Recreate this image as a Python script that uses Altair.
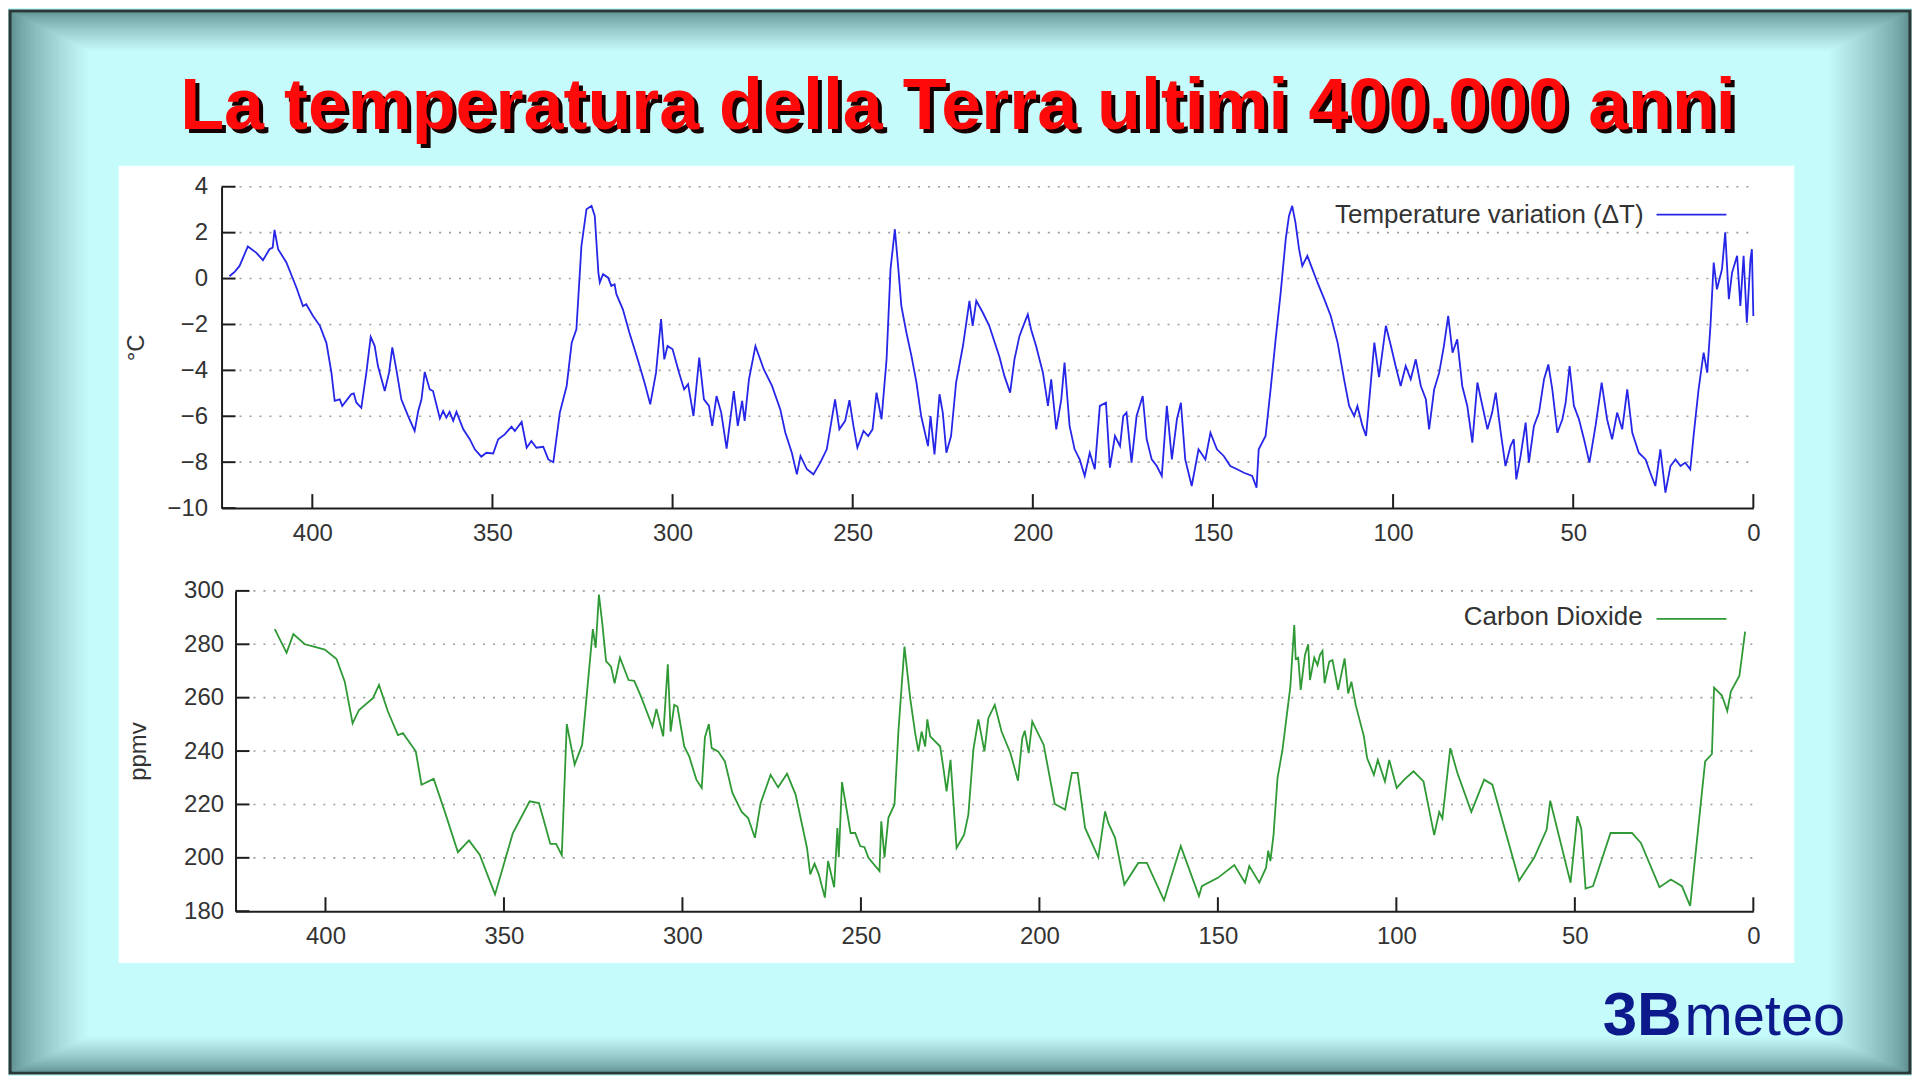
import altair as alt
import pandas as pd

# ---------------- data ----------------
temp_kyr = [423.0, 421.5, 420.2, 417.9, 415.6, 413.7, 411.9, 411.0, 410.5, 409.5, 407.2, 404.4, 402.6, 401.7,
            399.8, 397.9, 396.1, 394.7, 393.8, 392.4, 391.7, 390.6, 389.2, 388.5, 387.8, 386.4, 385.0, 383.8,
            382.7, 381.8, 379.9, 378.7, 377.8, 376.7, 375.3, 373.4, 371.6, 370.6, 369.7, 368.8, 367.4, 366.5,
            364.6, 363.7, 362.8, 361.9, 360.9, 360.0, 358.1, 356.3, 354.9, 353.1, 351.7, 349.8, 348.4, 346.6,
            344.7, 343.8, 341.9, 340.5, 339.2, 337.8, 335.9, 334.5, 333.1, 331.3, 329.4, 328.0, 326.7, 325.3,
            323.9, 322.5, 321.6, 320.6, 320.2, 319.3, 317.9, 317.0, 316.1, 315.6, 313.8, 312.0, 309.7, 307.8,
            306.2, 304.6, 303.2, 302.3, 301.4, 300.0, 298.2, 296.8, 295.7, 294.2, 292.6, 291.3, 289.9, 289.0,
            287.8, 286.5, 285.0, 283.0, 281.9, 280.7, 280.0, 278.8, 277.0, 274.7, 272.4, 270.1, 268.7, 266.9,
            265.5, 264.5, 262.7, 260.9, 259.0, 257.2, 254.9, 253.7, 252.1, 250.9, 249.8, 248.7, 247.0, 245.7,
            244.5, 243.4, 242.0, 240.6, 239.5, 238.3, 237.4, 236.5, 235.1, 233.7, 232.3, 231.0, 229.1, 228.4,
            227.3, 225.9, 225.0, 224.0, 222.7, 221.3, 219.4, 217.6, 216.7, 215.7, 213.9, 212.1, 209.3, 207.9,
            206.3, 205.1, 203.7, 202.3, 201.4, 200.5, 199.1, 197.2, 195.8, 194.9, 193.5, 192.1, 191.2, 189.8,
            188.4, 187.0, 185.6, 184.2, 182.8, 181.4, 179.7, 178.6, 177.2, 175.8, 174.9, 174.0, 172.6, 171.2,
            169.5, 168.4, 167.0, 165.6, 164.2, 162.8, 161.4, 160.0, 158.9, 157.7, 155.9, 154.0, 152.1, 150.7,
            148.9, 147.0, 145.2, 143.3, 141.4, 139.1, 137.9, 137.3, 135.4, 134.0, 132.6, 131.2, 129.8, 128.9,
            128.0, 127.1, 126.1, 125.2, 123.8, 122.4, 121.0, 119.1, 117.3, 115.4, 113.6, 112.2, 110.8, 109.9,
            108.5, 107.5, 106.1, 105.2, 103.9, 102.0, 100.6, 99.3, 97.9, 96.5, 95.1, 93.7, 92.3, 90.9, 90.0,
            88.6, 87.2, 85.9, 84.7, 83.5, 82.2, 80.8, 79.4, 78.0, 76.6, 75.2, 73.8, 72.5, 71.5, 70.1, 68.8,
            67.4, 66.5, 65.8, 64.6, 63.2, 62.3, 60.9, 59.5, 58.1, 56.9, 55.8, 54.4, 53.0, 52.1, 51.0, 49.8,
            48.4, 47.0, 45.5, 43.8, 42.1, 40.6, 39.2, 37.8, 36.4, 35.0, 33.6, 31.8, 29.9, 28.6, 27.2, 25.8,
            24.4, 23.0, 21.6, 20.2, 18.9, 17.5, 16.5, 15.2, 13.8, 12.8, 11.9, 11.0, 10.1, 8.7, 7.8, 6.8, 5.9,
            4.5, 3.6, 2.7, 1.8, 0.8, 0.4, 0.0]
temp_dc = [0.1, 0.3, 0.55, 1.4, 1.13, 0.8, 1.28, 1.35, 2.12, 1.28, 0.7, -0.4, -1.2, -1.12,
           -1.63, -2.06, -2.8, -4.1, -5.33, -5.26, -5.55, -5.33, -5.04, -5.0, -5.4, -5.63, -4.1, -2.54,
           -2.93, -3.8, -4.9, -4.1, -3.0, -3.95, -5.26, -5.99, -6.64, -5.77, -5.26, -4.07, -4.83, -4.9,
           -6.1, -5.77, -6.06, -5.81, -6.2, -5.81, -6.57, -7.0, -7.44, -7.76, -7.59, -7.62, -7.0, -6.79,
           -6.45, -6.64, -6.25, -7.37, -7.08, -7.37, -7.33, -7.88, -8.0, -5.84, -4.68, -2.79, -2.21, 1.42,
           3.02, 3.17, 2.73, 0.26, -0.17, 0.19, 0.04, -0.32, -0.25, -0.68, -1.34, -2.35, -3.52, -4.53,
           -5.48, -4.1, -1.77, -3.52, -2.94, -3.08, -4.1, -4.83, -4.6, -5.99, -3.44, -5.26, -5.55, -6.42,
           -5.12, -5.84, -7.41, -4.9, -6.42, -5.33, -6.2, -4.39, -2.94, -3.95, -4.68, -5.7, -6.72, -7.59,
           -8.53, -7.73, -8.31, -8.53, -8.02, -7.44, -5.26, -6.57, -6.2, -5.3, -6.42, -7.37, -6.64, -6.86,
           -6.57, -4.97, -6.13, -3.52, 0.41, 2.15, 0.55, -1.19, -2.35, -3.37, -4.53, -5.99, -7.3, -5.99,
           -7.66, -5.04, -5.84, -7.59, -6.86, -4.53, -2.94, -0.97, -2.06, -0.97, -1.48, -2.06, -3.4, -4.24,
           -4.97, -3.52, -2.5, -1.92, -1.56, -2.21, -2.94, -4.1, -5.55, -4.39, -6.57, -5.26, -3.66, -6.42,
           -7.44, -7.88, -8.6, -7.59, -8.31, -5.55, -5.41, -8.24, -6.86, -7.3, -5.99, -5.84, -8.02, -5.99,
           -5.12, -7.0, -7.88, -8.17, -8.6, -5.55, -7.88, -6.13, -5.41, -7.88, -9.04, -7.44, -7.88, -6.72,
           -7.44, -7.73, -8.17, -8.31, -8.46, -8.6, -9.11, -7.44, -6.86, -4.83, -2.65, -0.61, 1.72, 2.73,
           3.17, 2.44, 1.28, 0.55, 0.99, 0.41, -0.17, -0.9, -1.63, -2.79, -4.39, -5.55, -5.99, -5.55,
           -6.42, -6.86, -4.39, -2.79, -4.3, -2.06, -2.94, -3.81, -4.68, -3.81, -4.39, -3.52, -4.68, -5.26, -6.57,
           -4.83, -4.1, -2.94, -1.63, -3.23, -2.65, -4.68, -5.55, -7.15, -4.53, -5.55, -6.57, -5.84, -4.97, -6.72, -8.17,
           -7.3, -7.0, -8.75, -7.73, -6.28, -8.02, -6.42, -5.84, -4.39, -3.74, -4.83, -6.72, -6.13, -5.41, -3.81, -5.55,
           -6.13, -7.0, -8.02, -6.42, -4.53, -6.13, -7.0, -5.84, -6.57, -4.83, -6.72, -7.59, -7.88, -8.46, -9.04, -7.44,
           -9.33, -8.17, -7.88, -8.17, -8.02, -8.31, -6.72, -4.83, -3.23, -4.1, -2.06, 0.7, -0.47, 0.41, 2.01, -0.9, 0.26,
           0.99, -1.19, 0.99, -1.92, 0.84, 1.28, -1.63]

co2_kyr = [414.2, 410.9, 409.0, 405.8, 403.5, 400.2, 396.9, 394.6, 392.4, 390.6, 386.7, 385.0, 382.5, 379.7,
           378.3, 374.7, 373.1, 369.7, 366.6, 362.9, 359.8, 356.8, 352.5, 347.5, 342.8, 340.2, 337.0, 335.4,
           333.8, 332.4, 330.2, 328.1, 325.1, 324.3, 323.4, 322.5, 321.4, 320.0, 319.0, 317.5, 315.1, 313.5,
           311.6, 308.4, 307.3, 305.4, 304.1, 303.3, 302.3, 301.4, 299.5, 298.1, 296.1, 294.6, 293.7, 292.6,
           291.8, 290.0, 288.1, 286.0, 283.4, 281.6, 279.7, 278.1, 275.3, 273.2, 270.7, 268.3, 265.1, 264.2,
           263.0, 261.8, 260.1, 259.2, 257.5, 256.6, 256.2, 255.3, 252.9, 251.6, 250.2, 249.0, 247.9, 244.8,
           244.3, 243.4, 242.3, 240.6, 239.5, 237.8, 236.2, 234.8, 233.9, 233.0, 232.0, 231.4, 230.6, 227.8,
           226.9, 226.0, 224.9, 223.2, 221.1, 219.9, 218.5, 217.1, 215.4, 214.3, 212.5, 210.6, 208.1, 206.0,
           204.8, 204.1, 203.0, 202.0, 198.8, 195.7, 192.8, 190.9, 189.3, 187.2, 183.5, 181.6, 180.7, 178.8,
           176.2, 172.3, 169.9, 165.1, 160.4, 155.3, 154.5, 150.0, 145.4, 142.4, 141.2, 138.4, 136.5, 135.9,
           135.3, 134.4, 133.3, 131.9, 129.7, 128.6, 128.2, 127.5, 126.8, 125.6, 124.7, 124.2, 123.0, 122.1,
           121.4, 120.7, 120.1, 118.8, 117.9, 116.3, 114.5, 113.5, 112.6, 111.4, 109.1, 108.2, 106.3, 105.2,
           103.2, 102.0, 99.9, 97.8, 95.2, 92.4, 89.4, 88.0, 87.1, 84.9, 82.9, 79.0, 75.4, 73.1, 65.6, 61.4,
           57.9, 56.9, 51.2, 49.3, 48.2, 47.0, 44.9, 40.0, 34.0, 31.5, 26.3, 23.1, 20.0, 17.7, 13.5, 11.6,
           11.0, 8.8, 7.3, 6.3, 3.9, 2.3]
co2_ppmv = [285.7, 276.8, 283.8, 280.0, 279.2, 278.0, 274.5, 266.0, 250.4, 255.4, 259.8, 264.8, 254.8, 246.0,
            246.7, 239.9, 227.4, 229.6, 217.4, 202.1, 206.5, 201.2, 186.3, 209.3, 221.2, 220.5, 205.2, 205.2,
            201.0, 250.1, 234.9, 242.3, 285.7, 278.7, 298.6, 288.4, 273.7, 271.6, 265.4, 275.0, 266.6, 266.3,
            260.4, 249.2, 255.8, 245.5, 272.5, 247.3, 257.3, 256.7, 241.7, 238.0, 229.3, 226.2, 245.2, 250.1,
            241.1, 239.9, 236.1, 224.3, 217.2, 214.9, 207.5, 220.5, 231.1, 226.4, 231.5, 223.7, 203.7, 193.8,
            197.8, 193.8, 185.1, 198.8, 189.0, 211.2, 200.2, 228.4, 209.3, 209.3, 204.4, 204.0, 200.0, 195.0,
            213.7, 200.2, 215.0, 220.0, 247.3, 279.1, 259.8, 246.7, 239.9, 247.3, 241.7, 251.9, 245.5, 241.7,
            233.6, 224.9, 236.7, 203.7, 208.7, 216.2, 240.5, 251.9, 239.9, 252.3, 257.3, 247.3, 239.2, 228.9,
            244.8, 247.6, 239.2, 251.1, 242.3, 220.2, 218.1, 231.8, 231.8, 211.2, 200.2, 217.4, 213.1, 207.5,
            190.0, 198.1, 198.1, 184.1, 204.4, 185.7, 189.4, 192.5, 197.3, 190.7, 196.9, 190.7, 196.3, 202.7,
            198.8, 208.7, 229.9, 240.5, 264.1, 287.2, 274.5, 275.0, 262.9, 276.0, 280.0, 266.6, 275.0, 272.2,
            276.0, 277.5, 265.4, 273.5, 274.1, 262.9, 274.7, 261.6, 266.0, 257.3, 245.5, 237.4, 231.1, 236.7,
            228.6, 236.7, 226.2, 229.3, 232.4, 228.6, 208.5, 217.2, 214.7, 241.1, 231.8, 217.2, 229.3, 227.4,
            191.5, 200.0, 210.6, 221.4, 190.7, 215.6, 211.0, 188.5, 189.4, 209.3, 209.3, 205.6, 189.0, 191.9,
            189.4, 182.0, 236.1, 238.9, 263.8, 260.8, 255.0, 262.3, 268.2, 284.7]

x_ticks = [400, 350, 300, 250, 200, 150, 100, 50, 0]
temp_y_ticks = [-10, -8, -6, -4, -2, 0, 2, 4]
temp_grid = [-8, -6, -4, -2, 0, 2, 4]
co2_y_ticks = [180, 200, 220, 240, 260, 280, 300]
co2_grid = [200, 220, 240, 260, 280, 300]

title_text = "La temperatura della Terra ultimi 400.000 anni"
temp_title = "°C"
co2_title = "ppmv"
temp_label = "Temperature variation (ΔT)"
co2_label = "Carbon Dioxide"
logo_a = "3B"
logo_b = "meteo"

# ---------------- styling / layout constants ----------------
FONT = "Liberation Sans"
BLUE = "#2626e8"
GREEN = "#2f9a35"
AXIS = "#1e1e1e"
LABEL = "#333333"
GRID = "#9c9c9c"
CYAN = "#c6fbfb"
W = 1535            # plot width (page x 220 .. 1755)
H_TITLE = 60        # title row, page y 41 .. 101
H_TOP = 322         # page y 184 .. 506
H_BOT = 321         # page y 589 .. 910
GAP = 83
OX, OY = 220, 41    # page position of title-row origin
XDOM = [425.2, 0]

one = pd.DataFrame({"k": [0]})


def px(x):
    return x - OX


def py(y):
    return y - OY


def mix(c1, c2, t):
    a = [int(c1[i:i + 2], 16) for i in (1, 3, 5)]
    b = [int(c2[i:i + 2], 16) for i in (1, 3, 5)]
    return "#" + "".join(f"{round(a[j] + (b[j] - a[j]) * t):02x}" for j in range(3))


# ---------------- title row (frame, white panel, title, logo) ----------------
layers = []
N = 26
L, T, R, B = 78, 40, 82, 36
for i in range(N + 1):
    f = i / N
    col = mix("#5f9191", CYAN, f ** 0.75)
    kw = dict(fill=col)
    if i == 0:
        kw.update(stroke="#2c3838", strokeWidth=3)
    layers.append(
        alt.Chart(one).mark_rect(**kw).encode(
            x=alt.value(px(8 + L * f)), x2=alt.value(px(1912 - R * f)),
            y=alt.value(py(8 + T * f)), y2=alt.value(py(1072 - B * f)))
    )
layers.append(alt.Chart(one).mark_rect(fill="white").encode(
    x=alt.value(px(117)), x2=alt.value(px(1796)), y=alt.value(py(163)), y2=alt.value(py(962))))

tdf = pd.DataFrame({"t": [title_text]})
layers.append(alt.Chart(tdf).mark_text(font=FONT, fontWeight="bold", fontSize=72, color="#150000",
                                       align="center", baseline="alphabetic").encode(
    x=alt.value(px(958) + 4), y=alt.value(py(126) + 4), text="t:N"))
layers.append(alt.Chart(tdf).mark_text(font=FONT, fontWeight="bold", fontSize=72, color="#ff0a0a",
                                       align="center", baseline="alphabetic").encode(
    x=alt.value(px(958)), y=alt.value(py(126)), text="t:N"))

ldf = pd.DataFrame({"a": [logo_a], "b": [logo_b]})
layers.append(alt.Chart(ldf).mark_text(font=FONT, fontWeight="bold", fontSize=62, color="#0c1a8c",
                                       align="left", baseline="alphabetic").encode(
    x=alt.value(px(1604)), y=alt.value(py(1034)), text="a:N"))
layers.append(alt.Chart(ldf).mark_text(font=FONT, fontSize=58, color="#0c1a8c",
                                       align="left", baseline="alphabetic").encode(
    x=alt.value(px(1686)), y=alt.value(py(1034)), text="b:N"))

title_row = alt.layer(*layers).properties(width=W, height=H_TITLE)

# ---------------- top: temperature ----------------
xs_top = alt.Scale(domain=XDOM, nice=False, zero=False)
ys_top = alt.Scale(domain=[-10, 4], nice=False, zero=False)
ax_top_x = alt.Axis(values=x_ticks, ticks=False, tickSize=0, grid=False, domainColor=AXIS, domainWidth=2,
                    labelFontSize=24, labelColor=LABEL, labelPadding=13, labelFlush=False, title=None)
ax_top_y = alt.Axis(values=temp_y_ticks, ticks=False, tickSize=0, grid=False, domainColor=AXIS, domainWidth=2,
                    labelFontSize=24, labelColor=LABEL, labelPadding=14, labelFlush=False,
                    title=temp_title, titleFontSize=24, titleFontWeight="normal", titleColor=LABEL,
                    titleAngle=270, titleX=-85, titleY=H_TOP / 2, titleBaseline="middle", titleAlign="center")

tdf2 = pd.DataFrame({"kyr": temp_kyr, "dT": temp_dc})
X1 = alt.X("kyr:Q", scale=xs_top, axis=ax_top_x)
Y1 = alt.Y("dT:Q", scale=ys_top, axis=ax_top_y)

top_grid = alt.Chart(pd.DataFrame({"dT": temp_grid})).mark_rule(
    color=GRID, strokeWidth=1.6, strokeDash=[2, 8]).encode(y=Y1, x=alt.value(18), x2=alt.value(W))
top_line = alt.Chart(tdf2).mark_line(color=BLUE, strokeWidth=1.8).encode(x=X1, y=Y1)
top_xt = alt.Chart(pd.DataFrame({"kyr": x_ticks})).mark_rule(color=AXIS, strokeWidth=2).encode(
    x=X1, y=alt.value(H_TOP), y2=alt.value(H_TOP - 14))
top_yt = alt.Chart(pd.DataFrame({"dT": temp_y_ticks})).mark_rule(color=AXIS, strokeWidth=2).encode(
    y=Y1, x=alt.value(0), x2=alt.value(14))
top_leg_t = alt.Chart(pd.DataFrame({"l": [temp_label]})).mark_text(
    font=FONT, fontSize=26, color=LABEL, align="right", baseline="middle").encode(
    x=alt.value(1645 - OX), y=alt.value(212 - 184), text="l:N")
top_leg_l = alt.Chart(one).mark_rule(color=BLUE, strokeWidth=1.8).encode(
    x=alt.value(1658 - OX), x2=alt.value(1728 - OX), y=alt.value(212 - 184))

top_chart = alt.layer(top_grid, top_line, top_xt, top_yt, top_leg_t, top_leg_l).properties(
    width=W, height=H_TOP)

# ---------------- bottom: CO2 ----------------
SH = 14  # the bottom plot's axes start 14px to the right
xs_bot = alt.Scale(domain=XDOM, range=[SH, W], nice=False, zero=False)
ys_bot = alt.Scale(domain=[180, 300], nice=False, zero=False)
ax_bot_x = alt.Axis(values=x_ticks, ticks=False, tickSize=0, grid=False, domainColor=AXIS, domainWidth=2,
                    labelFontSize=24, labelColor=LABEL, labelPadding=13, labelFlush=False, title=None)
ax_bot_y = alt.Axis(values=co2_y_ticks, ticks=False, tickSize=0, grid=False, domainColor=AXIS, domainWidth=2,
                    labelFontSize=24, labelColor=LABEL, labelPadding=12, labelFlush=False, offset=-SH,
                    title=co2_title, titleFontSize=24, titleFontWeight="normal", titleColor=LABEL,
                    titleAngle=270, titleX=-97, titleY=H_BOT / 2, titleBaseline="middle", titleAlign="center")

cdf = pd.DataFrame({"kyr": co2_kyr, "ppmv": co2_ppmv})
X2 = alt.X("kyr:Q", scale=xs_bot, axis=ax_bot_x)
Y2 = alt.Y("ppmv:Q", scale=ys_bot, axis=ax_bot_y)

bot_grid = alt.Chart(pd.DataFrame({"ppmv": co2_grid})).mark_rule(
    color=GRID, strokeWidth=1.6, strokeDash=[2, 8]).encode(y=Y2, x=alt.value(SH + 18), x2=alt.value(W))
bot_line = alt.Chart(cdf).mark_line(color=GREEN, strokeWidth=1.8).encode(x=X2, y=Y2)
bot_xt = alt.Chart(pd.DataFrame({"kyr": x_ticks})).mark_rule(color=AXIS, strokeWidth=2).encode(
    x=X2, y=alt.value(H_BOT), y2=alt.value(H_BOT - 14))
bot_yt = alt.Chart(pd.DataFrame({"ppmv": co2_y_ticks})).mark_rule(color=AXIS, strokeWidth=2).encode(
    y=Y2, x=alt.value(SH), x2=alt.value(SH + 14))
bot_leg_t = alt.Chart(pd.DataFrame({"l": [co2_label]})).mark_text(
    font=FONT, fontSize=26, color=LABEL, align="right", baseline="middle").encode(
    x=alt.value(1644 - OX), y=alt.value(615 - 589), text="l:N")
bot_leg_l = alt.Chart(one).mark_rule(color=GREEN, strokeWidth=1.8).encode(
    x=alt.value(1658 - OX), x2=alt.value(1728 - OX), y=alt.value(617 - 589))

bot_chart = alt.layer(bot_grid, bot_line, bot_xt, bot_yt, bot_leg_t, bot_leg_l).properties(
    width=W, height=H_BOT)

chart = alt.vconcat(title_row, top_chart, bot_chart, spacing=GAP, bounds="flush").properties(
    padding=0, background=CYAN
).configure_view(stroke=None).configure_axis(labelFont=FONT, titleFont=FONT)

chart.save("out.html", embed_options={"renderer": "svg", "actions": False})
